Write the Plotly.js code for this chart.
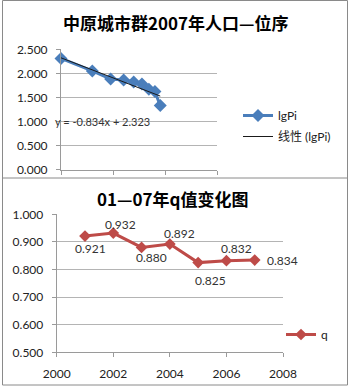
<!DOCTYPE html>
<html>
<head>
<meta charset="utf-8">
<script src="https://cdn.plot.ly/plotly-3.0.1.min.js"></script>
<style>
html,body{margin:0;padding:0;background:#fff;}
#chart{width:353px;height:388px;}
</style>
</head>
<body>
<div id="chart"></div>
<script>
// ---- data (top chart: rank-size) ----
const cityRank = [1, 2, 3, 4, 5, 6, 7, 8, 9];
const lgPi = [2.31, 2.05, 1.88, 1.86, 1.82, 1.78, 1.67, 1.62, 1.33];
const trendSlope = -0.834;
const trendIntercept = 2.323;
const topTitle = '中原城市群2007年人口—位序';
const seriesTopName = 'lgPi';
const trendName = '线性 (lgPi)';

// ---- data (bottom chart: q values) ----
const years = [2001, 2002, 2003, 2004, 2005, 2006, 2007];
const qValues = [0.921, 0.932, 0.880, 0.892, 0.825, 0.832, 0.834];
const bottomTitle = '01—07年q值变化图';
const seriesBottomName = 'q';

// ---- layout helpers ----
const W = 353, H = 388;
const px = x => x / W;
const py = y => 1 - y / H;
const FONT = 'Lato, "Noto Sans CJK SC", sans-serif';
const TITLEFONT = '"Noto Sans CJK SC", Lato, sans-serif';
const GRID = '#b4b4b4';
const AXIS = '#9a9a9a';
const BORDER = '#8a8a8a';

const lgRank = cityRank.map(r => Math.log10(r));
const trendX = [lgRank[0], lgRank[lgRank.length - 1]];
const trendY = trendX.map(x => trendSlope * x + trendIntercept);

// label offsets for q data labels [xshift, yshift(px, down positive)]
const labelOffsets = [[6, 12], [7, -9], [10, 10], [10, -11], [12, 18], [10, -12], [28, 0]];

const traces = [
  {
    x: lgRank, y: lgPi, name: seriesTopName, type: 'scatter', mode: 'lines+markers',
    xaxis: 'x', yaxis: 'y', legend: 'legend', legendgroup: 'a',
    line: {color: '#4A7EBB', width: 3},
    marker: {symbol: 'diamond', size: 10, color: '#4A7EBB'},
    cliponaxis: false
  },
  {
    x: trendX, y: trendY, name: trendName, type: 'scatter', mode: 'lines',
    xaxis: 'x', yaxis: 'y', legend: 'legend', legendgroup: 'b',
    line: {color: '#1a1a1a', width: 1},
    cliponaxis: false
  },
  {
    x: years, y: qValues, name: seriesBottomName, type: 'scatter', mode: 'lines+markers',
    xaxis: 'x2', yaxis: 'y2', legend: 'legend2',
    line: {color: '#BE4B48', width: 3},
    marker: {symbol: 'diamond', size: 9, color: '#BE4B48'},
    cliponaxis: false
  }
];

const annotations = [
  {xref: 'paper', yref: 'paper', x: px(176), y: py(22), text: '<b>' + topTitle + '</b>',
   showarrow: false, xanchor: 'center', yanchor: 'middle',
   font: {family: TITLEFONT, size: 17, color: '#000'}},
  {xref: 'paper', yref: 'paper', x: px(173), y: py(199), text: '<b>' + bottomTitle + '</b>',
   showarrow: false, xanchor: 'center', yanchor: 'middle',
   font: {family: TITLEFONT, size: 17, color: '#000'}},
  {xref: 'paper', yref: 'paper', x: px(102), y: py(121),
   text: 'y = ' + trendSlope.toFixed(3) + 'x + ' + trendIntercept.toFixed(3),
   showarrow: false, xanchor: 'center', yanchor: 'middle',
   font: {family: FONT, size: 11, color: '#333'}}
];
years.forEach((yr, i) => {
  annotations.push({
    xref: 'x2', yref: 'y2', x: yr, y: qValues[i], text: qValues[i].toFixed(3),
    showarrow: false, xanchor: 'center', yanchor: 'middle',
    xshift: labelOffsets[i][0], yshift: -labelOffsets[i][1],
    font: {family: FONT, size: 12, color: '#333'}
  });
});

const shapes = [
  {type: 'rect', xref: 'paper', yref: 'paper', x0: px(2.5), x1: px(347.5), y0: py(186), y1: py(0.5),
   line: {color: BORDER, width: 1}, fillcolor: 'rgba(0,0,0,0)', layer: 'below'},
  {type: 'rect', xref: 'paper', yref: 'paper', x0: px(2.5), x1: px(347.5), y0: py(385), y1: py(178),
   line: {color: BORDER, width: 1}, fillcolor: '#ffffff', layer: 'below'}
];

const axisCommon = {
  showline: true, linecolor: AXIS, linewidth: 1, zeroline: false,
  ticks: 'outside', ticklen: 4, tickcolor: AXIS, tickwidth: 1,
  tickfont: {family: FONT, size: 12, color: '#222'}, fixedrange: true
};

const layout = {
  width: W, height: H,
  margin: {l: 0, r: 0, t: 0, b: 0},
  paper_bgcolor: '#fff', plot_bgcolor: 'rgba(0,0,0,0)',
  showlegend: true,
  xaxis: Object.assign({}, axisCommon, {
    domain: [px(61), px(217)], range: [0, 1.5], dtick: 0.5, tick0: 0,
    showgrid: false, showticklabels: false, anchor: 'y'
  }),
  yaxis: Object.assign({}, axisCommon, {
    domain: [py(169.5), py(49.3)], range: [0, 2.5], dtick: 0.5, tick0: 0,
    tickformat: '.3f', showgrid: true, gridcolor: GRID, gridwidth: 1,
    ticklabelstandoff: 6, anchor: 'x'
  }),
  xaxis2: Object.assign({}, axisCommon, {
    domain: [px(56.7), px(283)], range: [2000, 2008], dtick: 2, tick0: 2000,
    showgrid: false, ticklabelstandoff: 6, anchor: 'y2'
  }),
  yaxis2: Object.assign({}, axisCommon, {
    domain: [py(352.3), py(214.3)], range: [0.5, 1.0], dtick: 0.1, tick0: 0.5,
    tickformat: '.3f', showgrid: true, gridcolor: GRID, gridwidth: 1,
    ticklabelstandoff: 6, anchor: 'x2'
  }),
  legend: {
    x: px(238), y: py(101), xanchor: 'left', yanchor: 'top',
    bgcolor: 'rgba(0,0,0,0)', font: {family: FONT, size: 12, color: '#222'},
    tracegroupgap: 2, itemclick: false, itemdoubleclick: false
  },
  legend2: {
    x: px(281), y: py(320), xanchor: 'left', yanchor: 'top',
    bgcolor: 'rgba(0,0,0,0)', font: {family: FONT, size: 12, color: '#222'},
    itemclick: false, itemdoubleclick: false
  },
  annotations: annotations,
  shapes: shapes,
  hovermode: false
};

Plotly.newPlot('chart', traces, layout, {displayModeBar: false, staticPlot: true});
</script>
</body>
</html>
